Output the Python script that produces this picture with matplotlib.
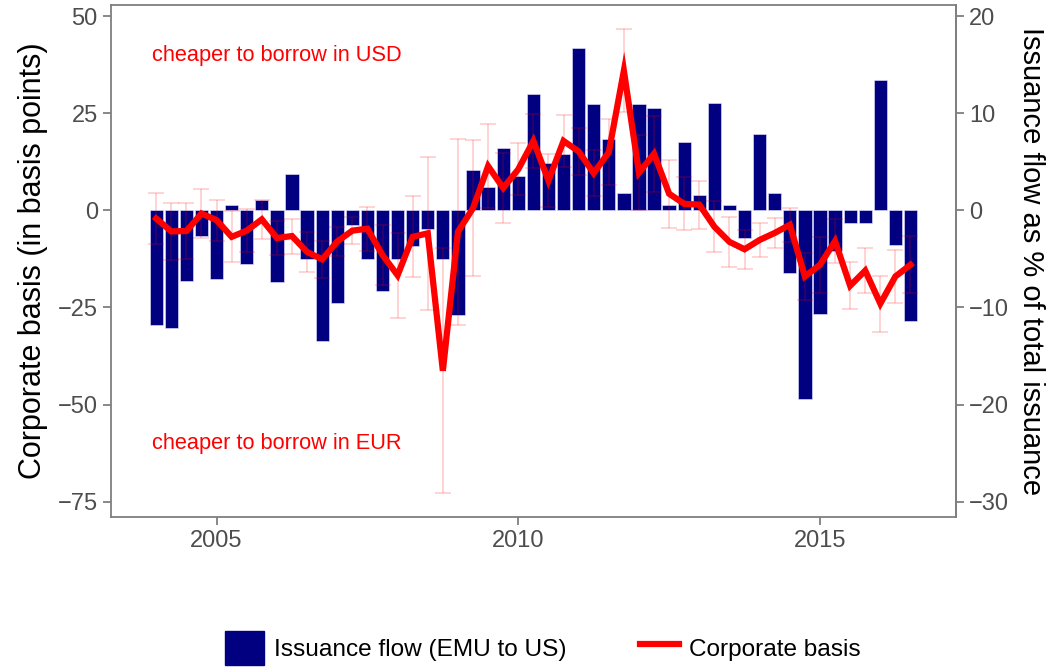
import numpy as np
import matplotlib
matplotlib.use("Agg")
import matplotlib.pyplot as plt
from matplotlib.patches import Patch
from matplotlib.lines import Line2D

plt.rcParams['font.family'] = ['Liberation Sans', 'DejaVu Sans']

# -- Data (quarterly, 2004Q1 .. 2016Q3)
quarters = 2004 + 0.25 * np.arange(51)

# corporate basis in basis points (left axis)
basis = [-2.1, -5.4, -5.3, -0.8, -2.5, -6.8, -5.2, -2.3, -7.1, -6.6,
         -10.7, -12.6, -8.0, -5.2, -4.7, -11.5, -16.7, -6.8, -5.9, -41.3,
         -5.5, 0.6, 11.4, 5.8, 10.6, 17.9, 7.7, 17.9, 15.2, 9.6,
         15.0, 36.0, 9.7, 14.6, 4.3, 1.7, 1.5, -4.2, -8.1, -10.0,
         -7.6, -5.8, -3.7, -17.0, -14.0, -7.9, -19.4, -15.5, -24.0, -17.0,
         -14.0]

# half width of the confidence band around the basis (bp)
basis_err = [6.6, 7.4, 7.3, 6.4, 5.3, 6.6, 5.6, 5.1, 4.4, 4.5,
             5.1, 4.7, 3.8, 3.5, 5.7, 7.8, 11.0, 10.4, 19.7, 31.6,
             23.9, 17.6, 10.9, 9.0, 6.7, 6.9, 6.8, 6.8, 6.1, 5.9,
             8.5, 10.7, 9.7, 9.8, 8.7, 6.8, 6.2, 6.6, 6.4, 5.0,
             4.3, 3.9, 4.4, 6.1, 7.2, 5.6, 6.0, 5.8, 7.2, 6.8,
             7.3]

# issuance flow EMU -> US, % of total issuance (right axis)
issuance = [-11.8, -12.1, -7.3, -2.6, -7.1, 0.6, -5.5, 1.1, -7.4, 3.8,
            -5.0, -13.5, -9.5, -1.5, -5.0, -8.3, -5.0, -3.7, -1.9, -5.0,
            -10.8, 4.2, 2.4, 6.4, 3.5, 12.0, 4.9, 5.8, 16.7, 11.0,
            7.4, 1.8, 11.0, 10.6, 0.6, 7.1, 1.6, 11.1, 0.6, -2.8,
            7.9, 1.8, -6.4, -19.4, -10.7, -4.2, -1.3, -1.3, 13.4, -3.6,
            -11.4]

scale = 2.5  # bp per % (secondary axis transform)

left_ticks = [-75, -50, -25, 0, 25, 50]
right_ticks = [-30, -20, -10, 0, 10, 20]
year_ticks = [2005, 2010, 2015]


def minus(ticks):
    return ['\u2212%d' % -t if t < 0 else str(t) for t in ticks]


fig = plt.figure(figsize=(10.52, 6.69), dpi=100)
ax = fig.add_axes([0.1055, 0.227, 0.803, 0.766])

ax.bar(quarters, np.array(issuance) * scale, width=0.22, color='#000080',
       edgecolor='#e8e8ff', linewidth=0.4, zorder=2)
ax.errorbar(quarters, basis, yerr=basis_err, fmt='none', ecolor=(1, 0, 0, 0.2),
            elinewidth=1.2, capsize=6, capthick=1.2, zorder=3)
ax.plot(quarters, basis, color='red', linewidth=4.5, solid_joinstyle='miter', zorder=4)

ax.text(2006, 40, 'cheaper to borrow in USD', color='red', fontsize=15.7,
        ha='center', va='center')
ax.text(2006, -60, 'cheaper to borrow in EUR', color='red', fontsize=15.7,
        ha='center', va='center')

ax.set_xlim(2003.25, 2017.25)
ax.set_ylim(-79, 53)
ax.set_xticks(year_ticks)
ax.set_yticks(left_ticks)
ax.set_yticklabels(minus(left_ticks))
ax.set_ylabel('Corporate basis (in basis points)', fontsize=22, labelpad=7)

ax2 = ax.secondary_yaxis('right', functions=(lambda v: v / scale, lambda v: v * scale))
ax2.set_yticks(right_ticks)
ax2.set_yticklabels(minus(right_ticks))
ax2.set_ylabel('Issuance flow as % of total issuance', fontsize=21,
               rotation=-90, labelpad=26)

for a in (ax, ax2):
    a.tick_params(colors='#7f7f7f', labelcolor='#4d4d4d', labelsize=17,
                  length=6, width=1.3, direction='out')
    for s in a.spines.values():
        s.set_color('#7f7f7f')
        s.set_linewidth(1.3)

handles = [Patch(facecolor='#000080', edgecolor='#000080'),
           Line2D([0], [0], color='red', linewidth=4.5)]
fig.legend(handles, ['Issuance flow (EMU to US)', 'Corporate basis'],
           loc='center', bbox_to_anchor=(0.516, 1 - 648 / 669), ncol=2,
           frameon=False, fontsize=17.6, handlelength=1.6, handleheight=1.75,
           columnspacing=3.0, handletextpad=0.4)

plt.savefig('out.png', dpi=100)
